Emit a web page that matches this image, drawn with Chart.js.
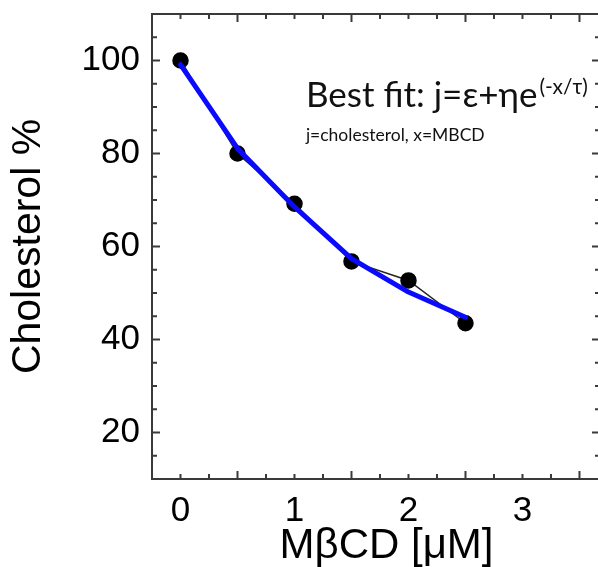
<!DOCTYPE html>
<html>
<head>
<meta charset="utf-8">
<script src="https://cdn.jsdelivr.net/npm/chart.js@4.4.0/dist/chart.umd.min.js"></script>
<style>
  html, body { margin: 0; padding: 0; background: #fff; overflow: hidden; }
  #wrap { width: 630px; height: 567px; }
</style>
</head>
<body>
<div id="wrap"><canvas id="chol" width="630" height="567"></canvas></div>
<script>
// values
const doseUM = [0, 0.5, 1, 1.5, 2, 2.5];
const cholesterolPct = [100, 80.0, 69.2, 56.8, 52.7, 43.5];
const fitPct = [99.1, 81.1, 68.5, 57.4, 50.2, 44.8];
const xTickLabels = [0, 1, 2, 3];
const yTickLabels = [20, 40, 60, 80, 100];
const fitTitle = 'Best fit: j=ε+ηe';
const fitExponent = '(-x/τ)';
const fitNote = 'j=cholesterol, x=MBCD';

const toPoints = (xs, ys) => xs.map((x, i) => ({ x: x, y: ys[i] }));

// box around the plot, inward ticks and the fit note
const frameTicks = {
  id: 'frameTicks',
  afterDraw(chart) {
    const { ctx, chartArea: a, scales: { x, y } } = chart;
    ctx.save();
    ctx.strokeStyle = '#3a3a3a';
    ctx.lineWidth = 2;
    ctx.strokeRect(a.left, a.top, a.right - a.left, a.bottom - a.top);

    ctx.beginPath();
    for (let i = 0; i * 0.25 < x.max; i++) {
      const px = x.getPixelForValue(i * 0.25);
      const len = i % 4 === 2 ? 8 : 5;
      ctx.moveTo(px, a.bottom); ctx.lineTo(px, a.bottom - len);
      ctx.moveTo(px, a.top); ctx.lineTo(px, a.top + len);
    }
    for (let v = y.min + 5; v < y.max; v += 5) {
      const py = y.getPixelForValue(v);
      const len = v % 20 === 0 ? 8 : 5;
      ctx.moveTo(a.left, py); ctx.lineTo(a.left + len, py);
      ctx.moveTo(a.right, py); ctx.lineTo(a.right - len, py);
    }
    ctx.stroke();

    // fit formula, anchored in data units
    const tx = x.getPixelForValue(1.1);
    const ty = y.getPixelForValue(90);
    ctx.fillStyle = '#111';
    ctx.textBaseline = 'alphabetic';
    ctx.textAlign = 'left';
    ctx.font = '35px Lato';
    ctx.fillText(fitTitle, tx, ty);
    const w = ctx.measureText(fitTitle).width;
    ctx.font = '21px Lato';
    ctx.fillText(fitExponent, tx + w + 2, ty - 13);
    ctx.font = '17.5px Lato';
    ctx.fillText(fitNote, tx, ty + 34);
    ctx.restore();
  }
};

new Chart(document.getElementById('chol'), {
  type: 'line',
  data: {
    datasets: [
      {
        label: 'fit',
        data: toPoints(doseUM, fitPct),
        borderColor: '#0a0aff',
        borderWidth: 5,
        borderCapStyle: 'round',
        borderJoinStyle: 'round',
        pointRadius: 0,
        tension: 0
      },
      {
        label: 'cholesterol',
        data: toPoints(doseUM, cholesterolPct),
        borderColor: '#222',
        borderWidth: 1.5,
        pointRadius: 7.5,
        pointBackgroundColor: '#000',
        pointBorderColor: '#000',
        tension: 0
      }
    ]
  },
  options: {
    responsive: false,
    animation: false,
    devicePixelRatio: 1,
    layout: { padding: { top: 14, right: 30, bottom: 0, left: 0 } },
    plugins: { legend: { display: false }, tooltip: { enabled: false } },
    scales: {
      x: {
        type: 'linear',
        min: -0.25,
        max: 3.68,
        grid: { display: false, drawTicks: false },
        border: { display: false },
        afterBuildTicks: s => { s.ticks = xTickLabels.map(v => ({ value: v })); },
        afterFit: s => { s.height = 88; s.paddingLeft = 0; s.paddingRight = 0; },
        ticks: {
          color: '#000',
          padding: 11,
          maxRotation: 0,
          font: { family: 'Liberation Sans, Arial, sans-serif', size: 35 }
        },
        title: {
          display: true,
          text: '\u2002MβCD [μM]',
          color: '#000',
          padding: { top: 0, bottom: 0 },
          font: { family: 'Liberation Sans, Arial, sans-serif', size: 42, lineHeight: 1 }
        }
      },
      y: {
        min: 10,
        max: 110,
        grid: { display: false, drawTicks: false },
        border: { display: false },
        afterBuildTicks: s => { s.ticks = yTickLabels.map(v => ({ value: v })); },
        afterFit: s => { s.width = 152; s.paddingTop = 0; s.paddingBottom = 0; },
        ticks: {
          color: '#000',
          padding: 12,
          font: { family: 'Liberation Sans, Arial, sans-serif', size: 35 }
        },
        title: {
          display: true,
          text: 'Cholesterol %',
          color: '#000',
          padding: { top: 8, bottom: 0 },
          font: { family: 'Liberation Sans, Arial, sans-serif', size: 41, lineHeight: 1 }
        }
      }
    }
  },
  plugins: [frameTicks]
});
</script>
</body>
</html>
